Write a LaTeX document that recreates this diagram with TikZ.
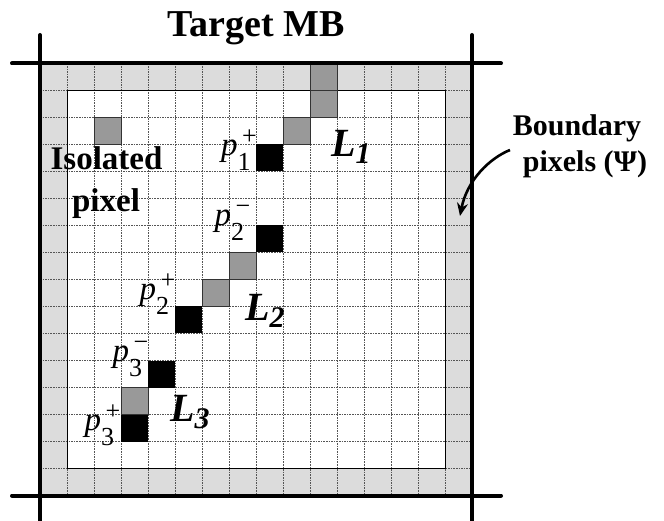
\documentclass[tikz,border=0pt]{standalone}
\usepackage{fontspec}
\setmainfont{Liberation Serif}
\usetikzlibrary{arrows.meta}

\definecolor{ringgray}{HTML}{DCDCDC}
\definecolor{pixgray}{HTML}{999999}
\definecolor{gridline}{HTML}{555555}

% p with a stacked subscript (#1) and superscript (#2)
\newcommand\plab[2]{\textit{p}\rlap{\hspace{4.5pt}\raisebox{11pt}{\fontsize{26}{26}\selectfont #2}}\raisebox{-15pt}{\fontsize{26}{26}\selectfont #1}}
% bold italic L with a subscript index
\newcommand\llab[1]{\textbf{\textit{L}}\raisebox{-7pt}{\fontsize{30}{30}\selectfont\bfseries\itshape #1}}

\tikzset{
  gridrule/.style={gridline, line width=0.7pt, dash pattern=on 1.6pt off 1pt},
  frame/.style={line width=4pt, line cap=round},
  graycell/.style={fill=pixgray, draw=black!80, line width=0.6pt},
  blackcell/.style={fill=black},
  plabel/.style={font=\fontsize{33}{33}\selectfont, inner sep=0pt, anchor=base west},
  llabel/.style={font=\fontsize{40}{40}\selectfont, inner sep=0pt, anchor=base west},
  bigbold/.style={font=\fontsize{33}{33}\selectfont\bfseries, inner sep=0pt, anchor=base},
  sidebold/.style={font=\fontsize{30}{30}\selectfont\bfseries, inner sep=0pt, anchor=base},
}

\begin{document}
\begin{tikzpicture}[x=1pt, y=-1pt]
\useasboundingbox (0,0) rectangle (664,521);

% boundary ring and inner area (16 x 16 cells of 27)
\fill[ringgray] (40,63.5) rectangle (472,495.5);
\fill[white] (67,90.5) rectangle (445,468.5);

% pixel grid
\foreach \i in {0,...,16} {
  \draw[gridrule] (40+27*\i,63.5) -- (40+27*\i,495.5);
  \draw[gridrule] (40,63.5+27*\i) -- (472,63.5+27*\i);
}
\draw[line width=0.8pt] (67,90.5) rectangle (445,468.5);

% gray pixels (col,row)
\foreach \c/\r in {2/2, 10/0, 10/1, 9/2, 7/7, 6/8, 3/12}
  \draw[graycell] (40+27*\c,63.5+27*\r) rectangle ++(27,27);
% black end pixels
\foreach \c/\r in {8/3, 8/6, 5/9, 4/11, 3/13}
  \fill[blackcell] (40+27*\c,63.5+27*\r) rectangle ++(27,27);

% macroblock border lines
\draw[frame] (12,63.5) -- (501,63.5);
\draw[frame] (12,495.5) -- (501,495.5);
\draw[frame] (40,35) -- (40,526);
\draw[frame] (472,35) -- (472,526);

% labels
\node[font=\fontsize{38}{38}\selectfont\bfseries, inner sep=0pt, anchor=base] (title) at (256,37) {Target MB};
\node[bigbold] (iso1) at (106.5,170) {Isolated};
\node[bigbold] (iso2) at (106,211.5) {pixel};
\node[sidebold] (bnd1) at (577,136) {Boundary};
\node[sidebold] (bnd2) at (585,172) {pixels (Ψ)};

\node[plabel] (p1p) at (221,156) {\plab{1}{+}};
\node[plabel] (p2m) at (214.5,226) {\plab{2}{−}};
\node[plabel] (p2p) at (139.5,300) {\plab{2}{+}};
\node[plabel] (p3m) at (112.5,361) {\plab{3}{−}};
\node[plabel] (p3p) at (84.5,430) {\plab{3}{+}};

\node[llabel] (l1) at (331,156.5) {\llab{1}};
\node[llabel] (l2) at (245,320) {\llab{2}};
\node[llabel] (l3) at (170,421.5) {\llab{3}};

% arrow pointing at the boundary ring
\coordinate (arrS) at (510,150);
\coordinate (arrE) at (460,216);
\draw[line width=2.6pt, -{Stealth[length=13pt,width=11pt]}]
  (arrS) .. controls (490,158) and (467,180) .. (arrE);
\end{tikzpicture}
\end{document}
